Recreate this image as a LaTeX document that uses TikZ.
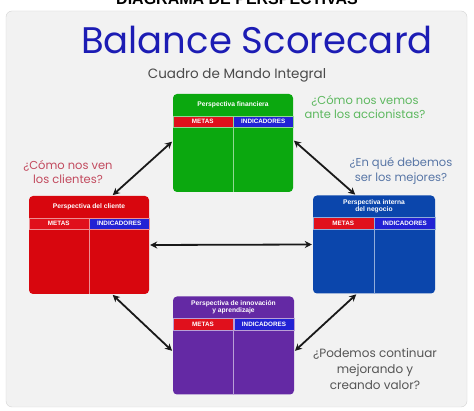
\documentclass[tikz,border=0pt]{standalone}
\usepackage{fontspec}
\setmainfont{Poppins}
\newfontfamily\labelfont{Liberation Sans}
\usetikzlibrary{arrows.meta,positioning,calc}
\definecolor{Panel}{HTML}{F2F2F2}
\definecolor{Edge}{HTML}{D4D4D4}
\definecolor{Ink}{HTML}{1C1CB4}
\definecolor{Slate}{HTML}{4A4A4A}
\definecolor{Emerald}{HTML}{0BA80F}
\definecolor{Scarlet}{HTML}{D8060E}
\definecolor{Cobalt}{HTML}{0B46AC}
\definecolor{Grape}{HTML}{6429A4}
\definecolor{HeadRed}{HTML}{E0101C}
\definecolor{HeadBlue}{HTML}{2222D4}
\definecolor{QGreen}{HTML}{5DB85F}
\definecolor{QRed}{HTML}{C24A5E}
\definecolor{QBlue}{HTML}{5876A6}
\definecolor{QGrey}{HTML}{555555}
% one perspective card: name, centre, width, colour, title
\newcommand{\perspbox}[5]{%
  \node[pbox,fill=#4,minimum width=#3] (#1) at (#2) {};
  \node[ptitle] (#1-title) at ($(#1.north)+(0,11)$) {#5};
  \node[hcell,fill=HeadRed,draw=white!55!#4,minimum width=#3/2,anchor=north east] (#1-metas) at ($(#1.north)+(0,22)$) {METAS};
  \node[hcell,fill=HeadBlue,draw=white!55!#4,minimum width=#3/2,anchor=north west] (#1-ind) at ($(#1.north)+(0,22)$) {INDICADORES};
  \draw[white!55!#4,line width=0.8pt] (#1-metas.south east) -- (#1.south);
}

\begin{document}
\begin{tikzpicture}[
  x=1pt,y=-1pt,
  pbox/.style={rounded corners=4pt,minimum height=98,inner sep=0pt},
  ptitle/.style={font=\labelfont\bfseries\fontsize{6.7}{7.5}\selectfont,text=white,align=center},
  hcell/.style={font=\labelfont\bfseries\fontsize{6.3}{7}\selectfont,text=white,minimum height=11.5,inner sep=0pt,line width=0.5pt},
  qtext/.style={font=\fontsize{11.5}{14.5}\selectfont,align=center},
  arr/.style={{Stealth[length=7pt,width=7pt]}-{Stealth[length=7pt,width=7pt]},line width=1.8pt,black!90,shorten <=1pt,shorten >=1pt}
]
\useasboundingbox (0,0) rectangle (474,411);
\fill[white] (0,0) rectangle (474,411);
\draw[Edge,fill=Panel,rounded corners=6pt] (6,11) rectangle (467,407);
\node[font=\labelfont\bfseries\fontsize{16}{18}\selectfont,anchor=base] (head) at (237,4.5) {DIAGRAMA DE PERSPECTIVAS};

\node[font=\fontsize{37}{40}\selectfont,text=Ink] (title) at (257,40) {Balance Scorecard};
\node[font=\fontsize{13.5}{15}\selectfont,text=Slate] (sub) at (237,75) {Cuadro de Mando Integral};

\perspbox{fin}{233,143}{120}{Emerald}{Perspectiva financiera}
\perspbox{cli}{89,245}{120}{Scarlet}{Perspectiva del cliente}
\perspbox{neg}{374,244.5}{122}{Cobalt}{Perspectiva interna\\del negocio}
\perspbox{inn}{233.5,345.5}{121}{Grape}{Perspectiva de innovación\\y aprendizaje}

\node[qtext,text=QGreen] (qfin) at (365,107) {¿Cómo nos vemos\\ante los accionistas?};
\node[qtext,text=QRed] (qcli) at (68,172) {¿Cómo nos ven\\los clientes?};
\node[qtext,text=QBlue] (qneg) at (401,171) {¿En qué debemos\\ser los mejores?};
\node[qtext,text=QGrey,font=\fontsize{12}{16}\selectfont] (qinn) at (375,369) {¿Podemos continuar\\mejorando y\\creando valor?};

\draw[arr] ([yshift=2pt]fin.west) -- ([xshift=23pt]cli.north);
\draw[arr] ([yshift=3pt]fin.east) -- ([xshift=-18pt]neg.north);
\draw[arr] (cli.east) -- (neg.west);
\draw[arr] ([xshift=23pt]cli.south) -- ([yshift=-6pt]inn.west);
\draw[arr] ([yshift=-6pt]inn.east) -- ([xshift=-17pt]neg.south);
\end{tikzpicture}
\end{document}
